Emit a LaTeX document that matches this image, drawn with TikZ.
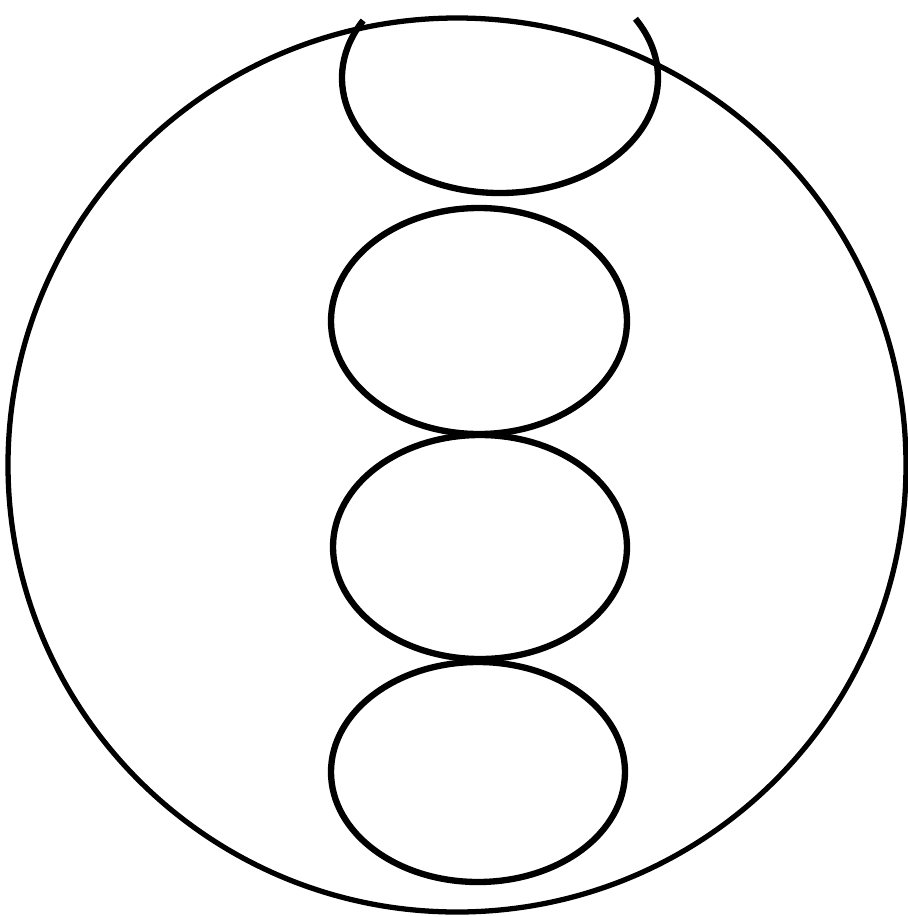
\documentclass[tikz,border=0pt]{standalone}
\begin{document}
\begin{tikzpicture}[x=0.02cm,y=-0.02cm,
  outline/.style={draw=black,line width=3.6pt},
  ring/.style={draw=black,line width=3.0pt}]
\useasboundingbox[fill=white] (0,0) rectangle (908,917);
% outer circle
\draw[ring] (457,465) ellipse [x radius=449, y radius=447];
% top cut ellipse (open arc)
\draw[outline] (500,78) ++(150:158 and -115) arc [start angle=150, end angle=391, x radius=158, y radius=-115];
% stacked ellipses
\draw[outline] (479,321) ellipse [x radius=148, y radius=113];
\draw[outline] (480,547) ellipse [x radius=147, y radius=112];
\draw[outline] (478,772) ellipse [x radius=147, y radius=110];
\end{tikzpicture}
\end{document}
